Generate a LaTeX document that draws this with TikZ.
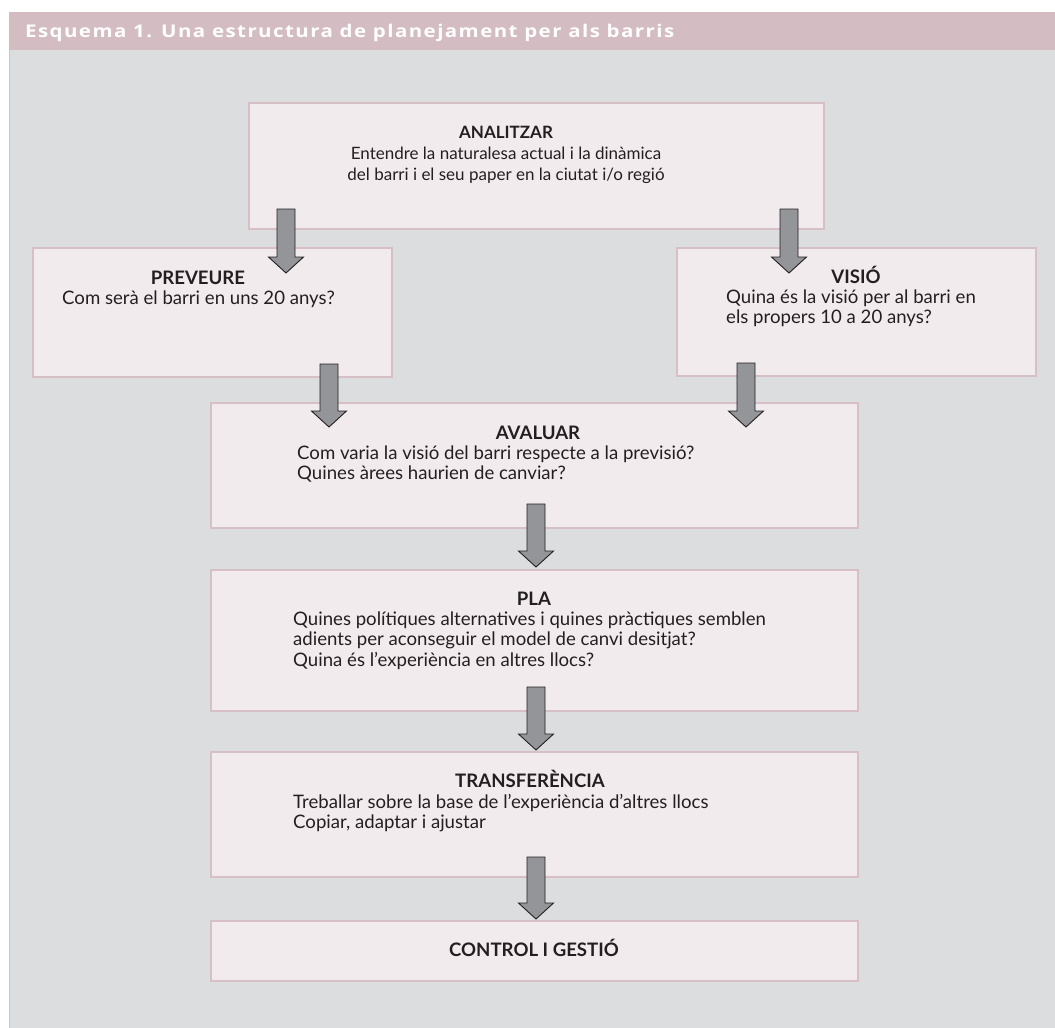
\documentclass[tikz,border=0pt]{standalone}
\usepackage{fontspec}
\usepackage{graphicx}
\setmainfont{Lato}
\newfontfamily\headfont[LetterSpace=7.0]{Open Sans}
\usetikzlibrary{calc}
\definecolor{headpink}{HTML}{D3BCC2}
\definecolor{panelgrey}{HTML}{DCDDDF}
\definecolor{boxfill}{HTML}{F2EBED}
\definecolor{boxline}{HTML}{D6BFC5}
\definecolor{arrfill}{HTML}{939598}
\definecolor{arrline}{HTML}{231F20}
\definecolor{txt}{HTML}{231F20}
\tikzset{
  stagebox/.style={draw=boxline, line width=1.8pt, fill=boxfill, inner sep=0pt},
  stagetitle/.style={inner sep=0pt, anchor=base, text=txt, font=\fontsize{18.6}{20.7}\selectfont\bfseries},
  stagebody/.style={inner sep=0pt, anchor=base west, text=txt, font=\fontsize{18.6}{20.7}\selectfont},
  blockarrow/.style={draw=arrline, line width=0.9pt, fill=arrfill, line join=miter},
}
\newcommand{\blockarr}[2]{%
  \draw[blockarrow] let \p1=(#1), \p2=(#2) in
    (\x1-9pt,\y1) -- (\x1+9pt,\y1) -- (\x1+9pt,\y2+16pt) -- (\x1+17.5pt,\y2+16pt)
    -- (\x1,\y2) -- (\x1-17.5pt,\y2+16pt) -- (\x1-9pt,\y2+16pt) -- cycle;}
\begin{document}
\begin{tikzpicture}[x=1pt,y=-1pt]
\useasboundingbox (0,0) rectangle (1055,1028);
\fill[white] (0,0) rectangle (1055,1028);
% panel and header
\fill[panelgrey] (9,50) rectangle (1055,1028);
\draw[boxline, line width=1pt] (9.5,50) -- (9.5,1028);
\fill[headpink] (9,12) rectangle (1055,50);
\node[anchor=base west, inner sep=0pt, text=white, font=\headfont\fontsize{17.5}{20}\selectfont\bfseries] (title) at (25,37) {\scalebox{1.17}[1]{Esquema 1. Una estructura de planejament per als barris}};
% boxes
\node[stagebox, minimum width=575pt, minimum height=126pt] (analitzar) at (536.5,166) {};
\node[stagebox, minimum width=359pt, minimum height=129pt] (preveure) at (212.5,312.5) {};
\node[stagebox, minimum width=359pt, minimum height=128pt] (visio) at (856.5,312) {};
\node[stagebox, minimum width=647pt, minimum height=125pt] (avaluar) at (534.5,465.5) {};
\node[stagebox, minimum width=647pt, minimum height=141pt] (pla) at (534.5,640.5) {};
\node[stagebox, minimum width=647pt, minimum height=125pt] (transf) at (534.5,814.5) {};
\node[stagebox, minimum width=647pt, minimum height=60pt] (control) at (534.5,951) {};
% titles
\node[stagetitle, font=\fontsize{17}{21}\selectfont\bfseries] (tanalitzar) at (506,138) {ANALITZAR};
\node[stagetitle] (tpreveure) at (198,284) {PREVEURE};
\node[stagetitle] (tvisio) at (856,283) {VISIÓ};
\node[stagetitle] (tavaluar) at (538,439) {AVALUAR};
\node[stagetitle] (tpla) at (534,605) {PLA};
\node[stagetitle] (ttransf) at (530,787) {TRANSFERÈNCIA};
\node[stagetitle] (tcontrol) at (534,956) {CONTROL I GESTIÓ};
% body texts
\node[stagebody, anchor=base, font=\fontsize{17}{21}\selectfont] (banalitzar) at (506,159) {\begin{tabular}[t]{@{}c@{}}Entendre la naturalesa actual i la dinàmica\\del barri i el seu paper en la ciutat i/o regió\end{tabular}};
\node[stagebody] (bpreveure) at (62,304) {Com serà el barri en uns 20 anys?};
\node[stagebody] (bvisio) at (726,303) {\begin{tabular}[t]{@{}l@{}}Quina és la visió per al barri en\\els propers 10 a 20 anys?\end{tabular}};
\node[stagebody] (bavaluar) at (297,459) {\begin{tabular}[t]{@{}l@{}}Com varia la visió del barri respecte a la previsió?\\Quines àrees haurien de canviar?\end{tabular}};
\node[stagebody] (bpla) at (293,625) {\begin{tabular}[t]{@{}l@{}}Quines polítiques alternatives i quines pràctiques semblen\\adients per aconseguir el model de canvi desitjat?\\Quina és l’experiència en altres llocs?\end{tabular}};
\node[stagebody] (btransf) at (293,808) {\begin{tabular}[t]{@{}l@{}}Treballar sobre la base de l’experiència d’altres llocs\\Copiar, adaptar i ajustar\end{tabular}};
% arrow end points
\coordinate (a1s) at (286,209);  \coordinate (a1e) at (286,273);
\coordinate (a2s) at (789,209);  \coordinate (a2e) at (789,273);
\coordinate (a3s) at (329,364);  \coordinate (a3e) at (329,427);
\coordinate (a4s) at (746,363);  \coordinate (a4e) at (746,427);
\coordinate (a5s) at (536,504);  \coordinate (a5e) at (536,567);
\coordinate (a6s) at (536,687);  \coordinate (a6e) at (536,750);
\coordinate (a7s) at (536,857);  \coordinate (a7e) at (536,919);
\blockarr{a1s}{a1e}
\blockarr{a2s}{a2e}
\blockarr{a3s}{a3e}
\blockarr{a4s}{a4e}
\blockarr{a5s}{a5e}
\blockarr{a6s}{a6e}
\blockarr{a7s}{a7e}
\end{tikzpicture}
\end{document}
